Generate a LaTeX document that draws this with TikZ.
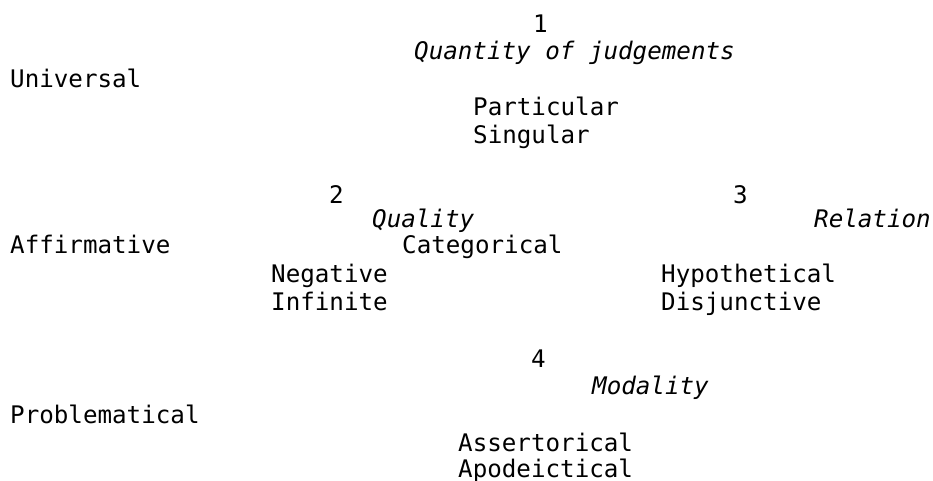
\documentclass[tikz,border=0pt]{standalone}
\usepackage{fontspec}
\setmonofont{DejaVu Sans Mono}
\usetikzlibrary{positioning}

\tikzset{
  entry/.style={inner sep=0pt, anchor=base west, font=\ttfamily\fontsize{24.2}{28}\selectfont},
  heading/.style={entry, font=\ttfamily\itshape\fontsize{24.2}{28}\selectfont},
}

\begin{document}
\begin{tikzpicture}[x=1pt, y=-1pt]
\useasboundingbox (0,0) rectangle (933,480);

% table of judgements
\node[entry] (num1) at (533,32) {1};
\node[heading] (quantity) at (414,59) {Quantity of judgements};
\node[entry] (universal) at (10,87) {Universal};
\node[entry] (particular) at (473,115) {Particular};
\node[entry] (singular) at (473,143) {Singular};

\node[entry] (num2) at (329,203) {2};
\node[heading] (quality) at (372,227) {Quality};
\node[entry] (affirmative) at (10,253) {Affirmative};
\node[entry] (categorical) at (402,253) {Categorical};
\node[entry] (negative) at (271,282) {Negative};
\node[entry] (infinite) at (271,310) {Infinite};

\node[entry] (num3) at (733,203) {3};
\node[heading] (relation) at (814,227) {Relation};
\node[entry] (hypothetical) at (661,282) {Hypothetical};
\node[entry] (disjunctive) at (661,310) {Disjunctive};

\node[entry] (num4) at (531,367) {4};
\node[heading] (modality) at (592,394) {Modality};
\node[entry] (problematical) at (10,423) {Problematical};
\node[entry] (assertorical) at (458,451) {Assertorical};
\node[entry] (apodeictical) at (458,477) {Apodeictical};
\end{tikzpicture}
\end{document}
